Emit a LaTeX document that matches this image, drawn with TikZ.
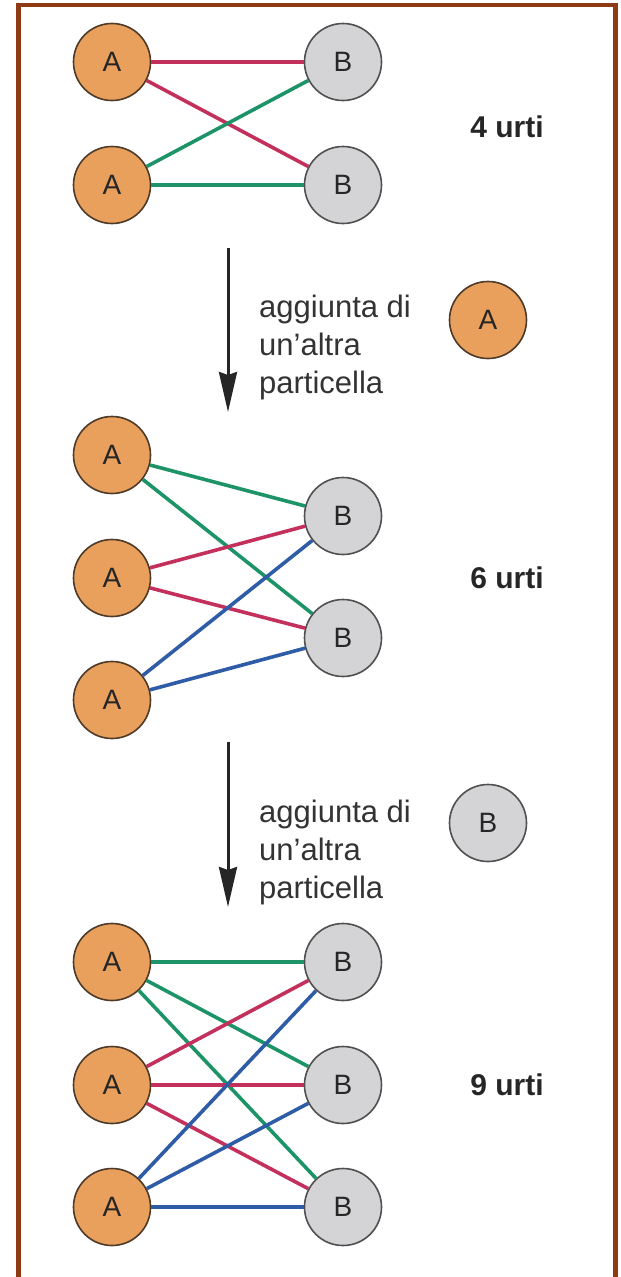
\documentclass[tikz,border=0pt]{standalone}
\usepackage{fontspec}
\setmainfont{Liberation Sans}
\usetikzlibrary{arrows.meta}
\definecolor{frame}{HTML}{8E3A12}
\definecolor{afill}{HTML}{E9A05C}
\definecolor{aedge}{HTML}{4E3A28}
\definecolor{bfill}{HTML}{D4D4D6}
\definecolor{bedge}{HTML}{505050}
\definecolor{pinkl}{HTML}{C4305C}
\definecolor{greenl}{HTML}{1C9468}
\definecolor{bluel}{HTML}{2E5CA6}
\tikzset{
  pa/.style={circle, draw=aedge, fill=afill, line width=1.6pt, minimum size=77pt, inner sep=0pt,
    font=\fontsize{28}{32}\selectfont, text=black!85},
  pb/.style={circle, draw=bedge, fill=bfill, line width=1.6pt, minimum size=77pt, inner sep=0pt,
    font=\fontsize{28}{32}\selectfont, text=black!85},
  pk/.style={pinkl, line width=3.6pt},
  gr/.style={greenl, line width=3.6pt},
  bl/.style={bluel, line width=3.6pt},
  count/.style={font=\fontsize{30}{36}\bfseries\selectfont, text=black!85, inner sep=0pt},
  note/.style={font=\fontsize{31}{38}\selectfont, text=black!80, inner sep=0pt, anchor=base west},
  addarrow/.style={line width=3pt, black!85, -{Stealth[length=40pt,width=18pt,inset=3pt]}}
}
\begin{document}
\begin{tikzpicture}[x=1pt,y=-1pt]
\useasboundingbox (0,0) rectangle (621,1277);
% frame, open at the bottom
\draw[frame, line width=4.5pt] (18.5,1277) -- (18.5,5) -- (615.5,5) -- (615.5,1277);

% ---- two A, two B
\node[pa] (a1) at (112,62) {A};
\node[pa] (a2) at (112,185) {A};
\node[pb] (b1) at (343,62) {B};
\node[pb] (b2) at (343,185) {B};
\draw[pk] (a1) -- (b1);
\draw[pk] (a1) -- (b2);
\draw[gr] (a2) -- (b1);
\draw[gr] (a2) -- (b2);
\node[count] (c1) at (507,127) {4 urti};

% ---- adding one A
\coordinate (s1) at (228,248);
\coordinate (e1) at (228,412);
\draw[addarrow] (s1) -- (e1);
\node[note] (n1a) at (259,317) {aggiunta di};
\node[note] (n1b) at (259,355) {un’altra};
\node[note] (n1c) at (259,393) {particella};
\node[pa] (ax) at (488,320) {A};

% ---- three A, two B
\node[pa] (m1) at (112,455) {A};
\node[pa] (m2) at (112,578) {A};
\node[pa] (m3) at (112,700) {A};
\node[pb] (n1) at (343,516) {B};
\node[pb] (n2) at (343,638) {B};
\draw[gr] (m1) -- (n1);
\draw[gr] (m1) -- (n2);
\draw[pk] (m2) -- (n1);
\draw[pk] (m2) -- (n2);
\draw[bl] (m3) -- (n1);
\draw[bl] (m3) -- (n2);
\node[count] (c2) at (507,578) {6 urti};

% ---- adding one B
\coordinate (s2) at (228,742);
\coordinate (e2) at (228,907);
\draw[addarrow] (s2) -- (e2);
\node[note] (n2a) at (259,822) {aggiunta di};
\node[note] (n2b) at (259,860) {un’altra};
\node[note] (n2c) at (259,898) {particella};
\node[pb] (bx) at (488,823) {B};

% ---- three A, three B
\node[pa] (p1) at (112,962) {A};
\node[pa] (p2) at (112,1085) {A};
\node[pa] (p3) at (112,1207) {A};
\node[pb] (q1) at (343,962) {B};
\node[pb] (q2) at (343,1085) {B};
\node[pb] (q3) at (343,1207) {B};
\draw[gr] (p1) -- (q1);
\draw[gr] (p1) -- (q2);
\draw[gr] (p1) -- (q3);
\draw[pk] (p2) -- (q1);
\draw[pk] (p2) -- (q2);
\draw[pk] (p2) -- (q3);
\draw[bl] (p3) -- (q1);
\draw[bl] (p3) -- (q2);
\draw[bl] (p3) -- (q3);
\node[count] (c3) at (507,1085) {9 urti};
\end{tikzpicture}
\end{document}
